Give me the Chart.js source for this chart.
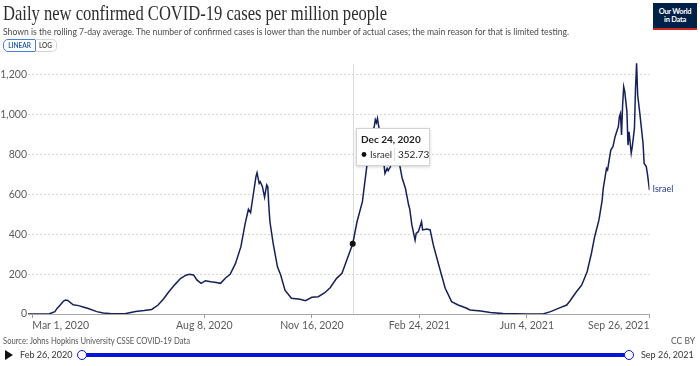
<!DOCTYPE html>
<html><head><meta charset="utf-8">
<script src="https://cdn.jsdelivr.net/npm/chart.js@4.4.1/dist/chart.umd.min.js"></script>
<style>
html,body{margin:0;padding:0;background:#fff;}
#wrap{position:relative;width:700px;height:366px;overflow:hidden;font-family:Lato,sans-serif;}
#c{position:absolute;left:0;top:0;width:700px;height:366px;}
.t{position:absolute;white-space:nowrap;transform-origin:0 0;}
.btn{position:absolute;box-sizing:border-box;font-weight:700;font-size:6.5px;text-align:center;line-height:11px;}
</style></head><body>
<div id="wrap">
<canvas id="c" width="700" height="366"></canvas>
<div class="t" id="title" style="left:3px;top:1px;font-family:'Liberation Serif',serif;font-size:21px;line-height:24px;color:#2d2d2d;">Daily new confirmed COVID-19 cases per million people</div>
<div class="t" id="sub" style="left:3px;top:25px;font-size:10px;line-height:12px;color:#4a4a4a;">Shown is the rolling 7-day average. The number of confirmed cases is lower than the number of actual cases; the main reason for that is limited testing.</div>
<div style="position:absolute;left:653px;top:3px;width:44px;height:27px;background:#002147;border-bottom:2px solid #ce261e;box-sizing:border-box;color:#fff;font-size:7.5px;line-height:8px;text-align:center;padding-top:5px;font-weight:700;letter-spacing:-0.3px;">Our World<br>in Data</div>
<div class="btn" style="left:3px;top:39px;width:33px;height:13px;border:1px solid #4b7fd6;border-radius:5px 0 0 5px;color:#2f5fb3;">LINEAR</div>
<div class="btn" style="left:35px;top:39px;width:22px;height:13px;border:1px solid #d6d6d6;border-left:none;border-radius:0 5px 5px 0;color:#555;">LOG</div>
<div class="t" id="src" style="left:3px;top:336px;font-size:8.5px;line-height:10px;color:#555;">Source: Johns Hopkins University CSSE COVID-19 Data</div>
<div class="t" style="left:671px;top:336px;font-size:8.5px;line-height:10px;color:#555;">CC BY</div>
<div style="position:absolute;left:5px;top:350px;width:0;height:0;border-top:5.5px solid transparent;border-bottom:5.5px solid transparent;border-left:8px solid #111;"></div>
<div class="t" id="tl0" style="left:20px;top:350px;font-size:9px;line-height:10px;color:#333;"></div>
<div style="position:absolute;left:82px;top:353px;width:547px;height:4px;background:#0a14d8;"></div>
<div style="position:absolute;left:77px;top:350px;width:10px;height:10px;box-sizing:border-box;border:1.5px solid #0a14d8;border-radius:50%;background:#fff;"></div>
<div style="position:absolute;left:624px;top:350px;width:10px;height:10px;box-sizing:border-box;border:1.5px solid #0a14d8;border-radius:50%;background:#fff;"></div>
<div class="t" id="tl1" style="left:641px;top:350px;font-size:9px;line-height:10px;color:#333;"></div>
</div>
<script>
// ---- DATA ----
const entity = 'Israel';
const startDate = '2020-02-26';
const endDate = '2021-09-26';
const dates = [
'2020-02-26','2020-03-17','2020-03-22','2020-03-24','2020-03-27','2020-03-30','2020-04-01','2020-04-03','2020-04-08','2020-04-13',
'2020-04-18','2020-04-22','2020-04-30','2020-05-06','2020-05-14','2020-05-26','2020-06-05','2020-06-13','2020-06-20','2020-06-26',
'2020-07-01','2020-07-06','2020-07-12','2020-07-17','2020-07-22','2020-07-25','2020-07-29','2020-08-01','2020-08-05','2020-08-09',
'2020-08-14','2020-08-19','2020-08-23','2020-08-28','2020-09-01','2020-09-06','2020-09-11','2020-09-15','2020-09-18','2020-09-20',
'2020-09-22','2020-09-25','2020-09-26','2020-09-28','2020-09-29','2020-10-01','2020-10-03','2020-10-05','2020-10-06','2020-10-07',
'2020-10-08','2020-10-11','2020-10-15','2020-10-18','2020-10-22','2020-10-28','2020-11-05','2020-11-10','2020-11-16','2020-11-22',
'2020-11-28','2020-12-03','2020-12-09','2020-12-14','2020-12-19','2020-12-24','2020-12-28','2021-01-02','2021-01-06','2021-01-09',
'2021-01-12','2021-01-13','2021-01-14','2021-01-15','2021-01-16','2021-01-17','2021-01-19','2021-01-21','2021-01-23','2021-01-25',
'2021-01-26','2021-01-28','2021-01-31','2021-02-03','2021-02-06','2021-02-08','2021-02-11','2021-02-14','2021-02-15','2021-02-17',
'2021-02-20','2021-02-21','2021-02-23','2021-02-26','2021-02-27','2021-03-03','2021-03-06','2021-03-09','2021-03-14','2021-03-20',
'2021-03-26','2021-04-01','2021-04-09','2021-04-12','2021-04-22','2021-05-01','2021-05-13','2021-06-04','2021-06-19','2021-06-26',
'2021-07-05','2021-07-11','2021-07-14','2021-07-19','2021-07-25','2021-07-30','2021-08-03','2021-08-06','2021-08-10','2021-08-13',
'2021-08-14','2021-08-17','2021-08-18','2021-08-21','2021-08-23','2021-08-25','2021-08-27','2021-08-28','2021-08-29','2021-08-30',
'2021-08-31','2021-09-01','2021-09-02','2021-09-03','2021-09-05','2021-09-06','2021-09-07','2021-09-09','2021-09-10','2021-09-12',
'2021-09-13','2021-09-14','2021-09-15','2021-09-17','2021-09-18','2021-09-20','2021-09-21','2021-09-23','2021-09-24','2021-09-26'
];
const cases = [
0,1,12,28,45,65,70,68,46,42,
34,28,12,5,1,1,12,17,23,45,
75,112,150,179,195,199,196,171,154,167,
162,158,154,182,199,254,338,455,526,509,
581,689,709,656,664,639,586,648,639,539,
463,355,237,196,120,79,74,67,84,87,
107,132,179,204,279,352.73,463,564,737,880,
930,940,975,960,982,945,890,800,706,731,
720,739,790,820,739,681,631,547,527,447,
371,405,413,463,422,427,422,346,246,129,
62,45,29,20,15,7,2,0,0,12,
32,45,65,104,146,212,305,388,472,572,
631,731,723,823,840,890,924,940,991,1007,
899,1049,1141,1116,1016,848,915,807,840,932,
1133,1258,1099,1007,957,857,756,740,706,622
];
const yTicks = [0,200,400,600,800,1000,1200];
const xTickDates = ['2020-03-01','2020-08-08','2020-11-16','2021-02-24','2021-06-04','2021-09-26'];
const hoverDate = '2020-12-24';

// ---- helpers ----
const MONTHS = ['Jan','Feb','Mar','Apr','May','Jun','Jul','Aug','Sep','Oct','Nov','Dec'];
function ms(s){const p=s.split('-').map(Number);return Date.UTC(p[0],p[1]-1,p[2]);}
function dayOf(s){return Math.round((ms(s)-ms(startDate))/86400000);}
function fmt(s){const p=s.split('-').map(Number);return MONTHS[p[1]-1]+' '+p[2]+', '+p[0];}
const tickLabel = {}; xTickDates.forEach(d=>tickLabel[dayOf(d)]=fmt(d));
const points = dates.map((d,i)=>({x:dayOf(d), y:cases[i]}));
const hoverIdx = dates.indexOf(hoverDate);

document.getElementById('tl0').textContent = fmt(startDate);
document.getElementById('tl1').textContent = fmt(endDate);
function fitX(id,w){const el=document.getElementById(id);const r=el.getBoundingClientRect().width;el.style.transform='scaleX('+(w/r)+')';}
fitX('title',384); fitX('sub',566); fitX('src',187);

const LINE = '#15205a';
const overlay = {
  id:'overlay',
  beforeDatasetsDraw(chart){
    const {ctx, chartArea, scales:{x}} = chart;
    const px = x.getPixelForValue(dayOf(hoverDate));
    ctx.save();
    ctx.strokeStyle='#dcdcdc'; ctx.lineWidth=1;
    ctx.beginPath(); ctx.moveTo(Math.round(px)+0.5, chartArea.top+4); ctx.lineTo(Math.round(px)+0.5, chartArea.bottom); ctx.stroke();
    ctx.restore();
  },
  afterDatasetsDraw(chart){
    const {ctx, chartArea, scales:{x,y}} = chart;
    const px = x.getPixelForValue(dayOf(hoverDate));
    const py = y.getPixelForValue(cases[hoverIdx]);
    ctx.save();
    ctx.fillStyle='#111';
    ctx.beginPath(); ctx.arc(px,py,3,0,Math.PI*2); ctx.fill();
    // end label
    const last = points[points.length-1];
    ctx.fillStyle='#2b3990'; ctx.font='9px Lato'; ctx.textBaseline='middle'; ctx.textAlign='left';
    ctx.fillText(entity, x.getPixelForValue(last.x)+3, y.getPixelForValue(last.y)-1);
    // tooltip
    const bx = Math.round(px)+3, by = chartArea.top+68, bw=74, bh=38;
    ctx.shadowColor='rgba(0,0,0,0.18)'; ctx.shadowBlur=3; ctx.shadowOffsetY=1;
    ctx.fillStyle='#fff'; ctx.fillRect(bx,by,bw,bh);
    ctx.shadowColor='transparent';
    ctx.strokeStyle='#d4d4d4'; ctx.lineWidth=1; ctx.strokeRect(bx+0.5,by+0.5,bw-1,bh-1);
    ctx.textBaseline='alphabetic';
    ctx.fillStyle='#222'; ctx.font='bold 10px Lato';
    ctx.fillText(fmt(hoverDate), bx+5, by+15);
    ctx.fillStyle='#111'; ctx.beginPath(); ctx.arc(bx+8, by+26.5, 2.4, 0, Math.PI*2); ctx.fill();
    ctx.font='9.5px Lato'; ctx.fillStyle='#333';
    ctx.fillText(entity, bx+14, by+30);
    ctx.strokeStyle='#ddd'; ctx.beginPath(); ctx.moveTo(bx+38.5, by+20); ctx.lineTo(bx+38.5, by+33); ctx.stroke();
    ctx.fillStyle='#222'; ctx.font='10px Lato';
    ctx.fillText(cases[hoverIdx].toFixed(2), bx+42, by+30);
    ctx.restore();
  }
};

new Chart(document.getElementById('c'), {
  type:'line',
  data:{datasets:[{label:entity, data:points, borderColor:LINE, borderWidth:1.5, pointRadius:0, tension:0, fill:false}]},
  options:{
    responsive:false, animation:false, devicePixelRatio:1, events:[],
    layout:{padding:{top:60,left:0,right:50.5,bottom:32}},
    plugins:{legend:{display:false}, tooltip:{enabled:false}},
    scales:{
      x:{type:'linear', min:0, max:dayOf(endDate),
        afterBuildTicks:s=>{s.ticks = xTickDates.map(d=>({value:dayOf(d)}));},
        afterFit:s=>{s.height=20;},
        ticks:{align:'inner', maxRotation:0, autoSkip:false, padding:1, color:'#5b5b5b', font:{family:'Lato',size:10.5},
          callback:v=>tickLabel[v]||''},
        grid:{drawOnChartArea:false, drawTicks:true, tickLength:4, color:'#9a9a9a'},
        border:{display:true, color:'#a8a8a8'}},
      y:{min:0, max:1275,
        afterBuildTicks:s=>{s.ticks = yTicks.map(v=>({value:v}));},
        afterFit:s=>{s.width=28;},
        ticks:{padding:1, color:'#5b5b5b', font:{family:'Lato',size:10.5}, callback:v=>v.toLocaleString('en-US')},
        grid:{color:'#d6d6d6', drawTicks:false},
        border:{display:false, dash:[2,2]}}
    }
  },
  plugins:[overlay]
});
</script>
</body></html>
